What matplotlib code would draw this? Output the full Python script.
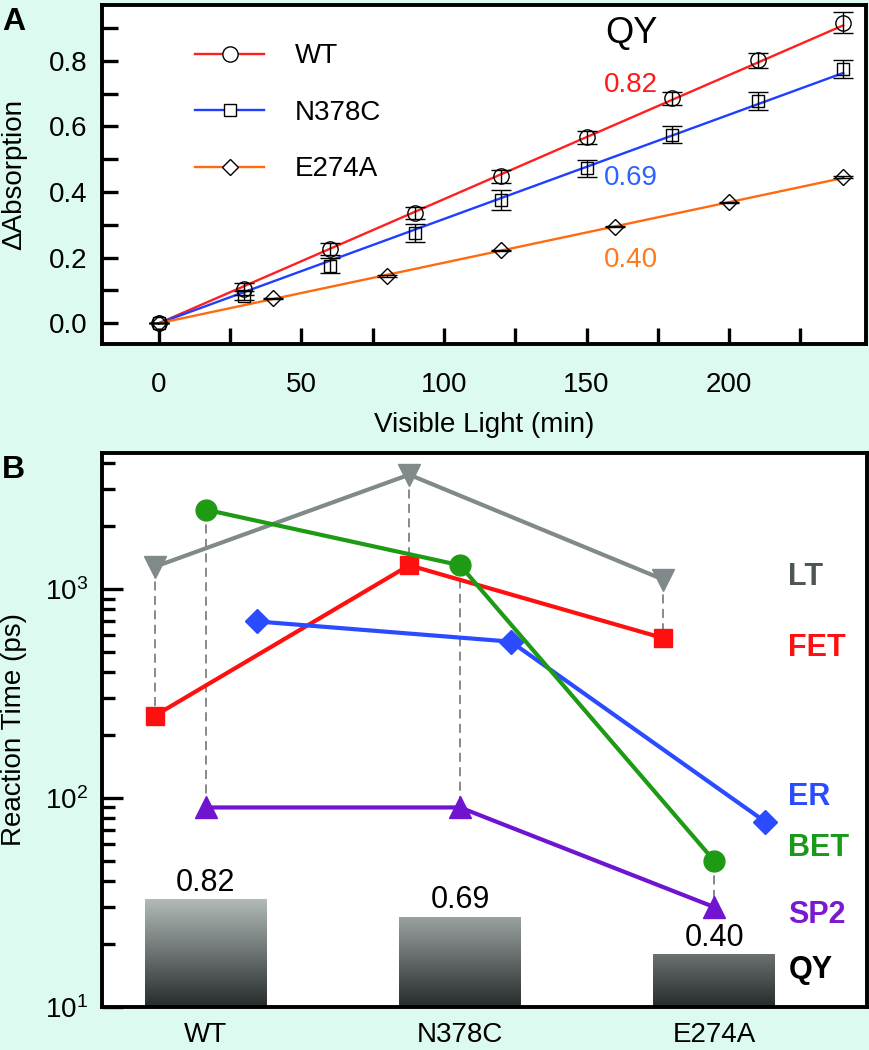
import numpy as np
import matplotlib
matplotlib.use('Agg')
import matplotlib.pyplot as plt
from matplotlib.lines import Line2D
from matplotlib.ticker import MultipleLocator, LogLocator, NullFormatter, FormatStrFormatter

plt.rcParams['font.family'] = ['Liberation Sans', 'DejaVu Sans']
plt.rcParams['mathtext.fontset'] = 'custom'
plt.rcParams['mathtext.rm'] = 'Liberation Sans'
plt.rcParams['mathtext.it'] = 'Liberation Sans:italic'
plt.rcParams['mathtext.bf'] = 'Liberation Sans:bold'

# ---------------- Panel A data ----------------
time_wt = [0, 30, 60, 90, 120, 150, 180, 210, 240]
abs_wt = [0.0, 0.104, 0.226, 0.336, 0.448, 0.567, 0.686, 0.801, 0.916]
err_wt = [0.0, 0.018, 0.019, 0.018, 0.019, 0.019, 0.020, 0.024, 0.032]

time_n378c = [0, 30, 60, 90, 120, 150, 180, 210, 240]
abs_n378c = [0.0, 0.084, 0.176, 0.275, 0.376, 0.473, 0.575, 0.677, 0.776]
err_n378c = [0.0, 0.013, 0.022, 0.027, 0.030, 0.026, 0.025, 0.027, 0.027]

time_e274a = [0, 40, 80, 120, 160, 200, 240]
abs_e274a = [0.0, 0.076, 0.144, 0.222, 0.295, 0.369, 0.446]
err_e274a = [0.0, 0.002, 0.002, 0.002, 0.002, 0.002, 0.002]

fit_x = [0, 240]
fit_wt = [0.0, 0.908]
fit_n378c = [0.0, 0.763]
fit_e274a = [0.0, 0.443]

series_names = ['WT', 'N378C', 'E274A']
qy_text = ['0.82', '0.69', '0.40']

# ---------------- Panel B data ----------------
mutants = ['WT', 'N378C', 'E274A']
LT = [1280, 3530, 1110]
FET = [248, 1300, 582]
ER = [700, 560, 77]
BET = [2400, 1300, 50]
SP2 = [90, 90, 30]
QY = [0.82, 0.69, 0.40]
qy_bar_top = [32.8, 27.0, 17.9]

BG = '#dcfaf0'
fig = plt.figure(figsize=(8.7, 10.5), dpi=100, facecolor=BG)
axA = fig.add_axes([0.1169, 0.6724, 0.8785, 0.3228])
axB = fig.add_axes([0.1169, 0.0412, 0.8793, 0.5277])

# ---------------- Panel A ----------------
cA = ['#ff1f1f', '#1f3fff', '#ff6a10']
cA_txt = ['#ff1a1a', '#2a64ff', '#ff7a1a']
mk = ['o', 's', 'D']
msz = [11, 8.5, 8]
data_A = [(time_wt, abs_wt, err_wt, fit_wt),
          (time_n378c, abs_n378c, err_n378c, fit_n378c),
          (time_e274a, abs_e274a, err_e274a, fit_e274a)]
for (t, a, e, f), c, m, s in zip(data_A, cA, mk, msz):
    axA.plot(fit_x, f, color=c, lw=1.7, zorder=2)
    axA.errorbar(t, a, yerr=e, fmt=m, ms=s, mfc='none', mec='black', mew=1.0,
                 ecolor='black', elinewidth=1.0, capsize=7, capthick=1.0, zorder=3)

axA.set_xlim(-20, 248)
axA.set_ylim(-0.063, 0.97)
axA.xaxis.set_major_locator(MultipleLocator(50))
axA.xaxis.set_minor_locator(MultipleLocator(25))
axA.yaxis.set_major_locator(MultipleLocator(0.2))
axA.yaxis.set_minor_locator(MultipleLocator(0.1))
axA.yaxis.set_major_formatter(FormatStrFormatter('%.1f'))
axA.tick_params(which='both', direction='in', length=11.5, width=2.4, labelsize=20, pad=10)
axA.tick_params(axis='x', which='both', pad=20)
for sp in axA.spines.values():
    sp.set_linewidth(2.8)
axA.set_xlabel('Visible Light (min)', fontsize=20, labelpad=10)
axA.set_ylabel('\u0394Absorption', fontsize=20)
axA.yaxis.set_label_coords(-0.098, 0.5)

handles = [Line2D([], [], color=c, lw=1.7, marker=m, ms=s, mfc='white', mec='black', mew=1.0)
           for c, m, s in zip(cA, mk, msz)]
axA.legend(handles, series_names, loc='upper left', bbox_to_anchor=(0.122, 0.887),
           frameon=False, fontsize=20, handlelength=2.5, handletextpad=1.1,
           labelspacing=1.1, borderpad=0, borderaxespad=0)

axA.text(0.6925, 0.917, 'QY', transform=axA.transAxes, fontsize=26, ha='center', va='center')
for txt, c, yf in zip(qy_text, cA_txt, [0.764, 0.49, 0.248]):
    axA.text(0.6925, yf, txt, transform=axA.transAxes, fontsize=20, color=c,
             ha='center', va='center')

# ---------------- Panel B ----------------
x = np.arange(len(mutants))
colB = {'LT': '#808a8a', 'FET': '#ff1010', 'ER': '#2a4bff', 'BET': '#1e9a14', 'SP2': '#7014d0'}
txtB = {'LT': '#4d5555', 'FET': '#ff1010', 'ER': '#2a4cff', 'BET': '#1a9a1a', 'SP2': '#7a1ad0'}
seriesB = [('LT', LT, -0.2, 'v', 16, 3), ('FET', FET, -0.2, 's', 13.5, 4),
           ('ER', ER, 0.2, 'D', 12, 5), ('BET', BET, 0.0, 'o', 15, 6),
           ('SP2', SP2, 0.0, '^', 15.5, 7)]
for name, vals, off, m, s, z in seriesB:
    axB.plot(x + off, vals, color=colB[name], lw=3, marker=m, ms=s,
             mfc=colB[name], mec=colB[name], zorder=z)

for i in range(len(mutants)):
    axB.plot([x[i] - 0.2, x[i] - 0.2], [LT[i], FET[i]], ls=(0, (5, 3)),
             color='#808080', lw=1.3, zorder=1.5)
    axB.plot([x[i], x[i]], [BET[i], SP2[i]], ls=(0, (5, 3)),
             color='#808080', lw=1.3, zorder=1.5)

axB.set_yscale('log')
axB.set_xlim(-0.41, 2.6)
axB.set_ylim(10, 4500)
axB.set_autoscale_on(False)

bars = axB.bar(x, np.array(qy_bar_top) - 10, width=0.48, bottom=10,
               color='none', edgecolor='none', zorder=0.6)
n = 256
c0 = np.array([38, 43, 43]) / 255.0
c1 = np.array([182, 191, 189]) / 255.0
frac = np.linspace(0, 1, n)[:, None]
grad = (c0[None, :] * (1 - frac) + c1[None, :] * frac)[:, None, :]
for p in bars.patches:
    im = axB.imshow(grad, extent=(0, 1, 0, 0.2), transform=axB.transAxes,
                    aspect='auto', origin='lower', interpolation='bilinear', zorder=0.5)
    im.set_clip_path(p)
axB.set_xlim(-0.41, 2.6)
axB.set_ylim(10, 4500)

for xi, top, q in zip(x, qy_bar_top, QY):
    axB.annotate(f'{q:.2f}', (xi, top), xytext=(0, 1), textcoords='offset points',
                 ha='center', va='bottom', fontsize=22)

for name, yf in [('LT', 0.776), ('FET', 0.648), ('ER', 0.379), ('BET', 0.286), ('SP2', 0.1655)]:
    axB.text(0.8975, yf, name, transform=axB.transAxes, fontsize=22, fontweight='bold',
             color=txtB[name], ha='left', va='center')
axB.text(0.8975, 0.066, 'QY', transform=axB.transAxes, fontsize=22, fontweight='bold',
         color='black', ha='left', va='center')

axB.set_xticks(x)
axB.set_xticklabels(mutants)
axB.yaxis.set_major_locator(LogLocator(base=10, numticks=10))
axB.yaxis.set_minor_locator(LogLocator(base=10, subs=np.arange(2, 10), numticks=20))
axB.yaxis.set_minor_formatter(NullFormatter())
axB.tick_params(axis='y', which='major', direction='in', length=15, width=2.4, labelsize=20, pad=10)
axB.tick_params(axis='y', which='minor', direction='in', length=9.5, width=2.4)
axB.tick_params(axis='x', which='both', length=0, labelsize=20, pad=11)
for sp in axB.spines.values():
    sp.set_linewidth(2.8)
axB.set_ylabel('Reaction Time (ps)', fontsize=20)
axB.yaxis.set_label_coords(-0.098, 0.5)

fig.text(0.016, 0.979, 'A', fontsize=23, fontweight='bold', ha='center', va='center')
fig.text(0.016, 0.552, 'B', fontsize=23, fontweight='bold', ha='center', va='center')

fig.savefig('out.png', dpi=100, facecolor=BG)
